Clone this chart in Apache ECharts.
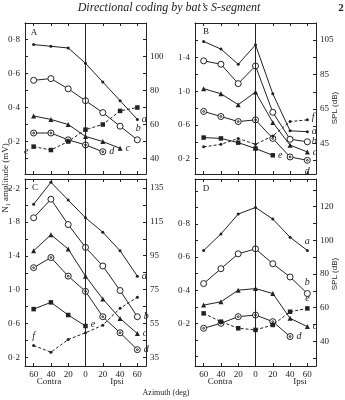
<!DOCTYPE html>
<html>
<head>
<meta charset="utf-8">
<style>
  html, body { margin: 0; padding: 0; background: #fff; }
  #chart { width: 345px; height: 400px; }
</style>
</head>
<body>
<div id="chart"></div>
<script src="https://cdn.jsdelivr.net/npm/echarts@6/dist/echarts.min.js"></script>
<script>
// azimuth in deg: contra is negative, ipsi positive
var azimuth = [-60, -40, -20, 0, 20, 40, 60];
var azTicks = [-60, -40, -20, 0, 20, 40, 60];

// panel A  (N1 amplitude, mV)
var aA = [0.77, 0.76, 0.75, 0.66, 0.55, 0.44, 0.33];
var bA = [0.56, 0.57, 0.51, 0.44, 0.37, 0.29, 0.21];
var cA = [0.35, 0.33, 0.30, 0.23, 0.20, 0.16];
var dA = [0.25, 0.25, 0.21, 0.18, 0.14];
var eA = [0.17, 0.15, 0.20, 0.27, 0.30, 0.38, 0.40];

// panel B
var aB = [1.59, 1.50, 1.32, 1.55, 0.97, 0.53, 0.52];
var bB = [1.36, 1.32, 1.09, 1.30, 0.75, 0.43, 0.40];
var cB = [1.03, 0.97, 0.84, 0.99, 0.63, 0.36, 0.28];
var dB = [0.76, 0.70, 0.64, 0.66, 0.44, 0.22, 0.18];
var eB = [0.45, 0.44, 0.39, 0.32, 0.24];
var fB = [0.34, 0.37, 0.44, 0.37, 0.47, 0.64, 0.66];

// panel C
var aC = [2.01, 2.27, 2.06, 1.85, 1.68, 1.46, 1.16];
var bC = [1.85, 2.07, 1.77, 1.50, 1.28, 0.99, 0.68];
var cC = [1.46, 1.65, 1.48, 1.16, 0.89, 0.66, 0.48];
var dC = [1.26, 1.38, 1.16, 0.98, 0.68, 0.49, 0.29];
var eC = [0.77, 0.85, 0.70, 0.57];
var fC = [0.34, 0.26, 0.41, 0.49, 0.58, 0.78, 0.91];

// panel D
var aD = [0.64, 0.74, 0.86, 0.90, 0.83, 0.72, 0.64];
var bD = [0.44, 0.53, 0.62, 0.65, 0.56, 0.48, 0.38];
var cD = [0.31, 0.33, 0.40, 0.41, 0.38, 0.23, 0.18];
var dD = [0.17, 0.20, 0.24, 0.25, 0.21, 0.12];
var eD = [0.26, 0.21, 0.17, 0.16, 0.19, 0.27, 0.29];

// tick marks / labels, left (mV) and right (SPL dB)
var ticksA = [0.1, 0.2, 0.3, 0.4, 0.5, 0.6, 0.7, 0.8];
var labelsA = [0.2, 0.4, 0.6, 0.8];
var splTicksA = [40, 50, 60, 70, 80, 90, 100, 110];
var splLabelsA = [40, 60, 80, 100];

var ticksB = [0.2, 0.4, 0.6, 0.8, 1.0, 1.2, 1.4, 1.6];
var labelsB = [0.2, 0.6, 1.0, 1.4];
var splTicksB = [35, 45, 55, 65, 75, 85, 95, 105];
var splLabelsB = [45, 65, 85, 105];

var ticksC = [0.2, 0.4, 0.6, 0.8, 1.0, 1.2, 1.4, 1.6, 1.8, 2.0, 2.2];
var labelsC = [0.2, 0.6, 1.0, 1.4, 1.8, 2.2];
var splTicksC = [35, 45, 55, 65, 75, 85, 95, 105, 115, 125, 135];
var splLabelsC = [35, 55, 75, 95, 115, 135];

var ticksD = [0, 0.1, 0.2, 0.3, 0.4, 0.5, 0.6, 0.7, 0.8, 0.9, 1.0];
var labelsD = [0.2, 0.4, 0.6, 0.8];
var splTicksD = [30, 40, 50, 60, 70, 80, 90, 100, 110, 120, 130];
var splLabelsD = [40, 60, 80, 100, 120];

var INK = '#222';
var SERIF = '"Liberation Serif", "DejaVu Serif", serif';

var chart = echarts.init(document.getElementById('chart'), null, {renderer: 'canvas'});

// panel boxes and value ranges (range picked so the paper's ticks land on place)
var panels = [
  {left: 25,  top: 23,  w: 121, h: 151, y: [0.009, 0.897], r: [30.9, 119.7],
   t: ticksA, l: labelsA, rt: splTicksA, rl: splLabelsA, xl: false},
  {left: 195, top: 23,  w: 121, h: 151, y: [0.018, 1.809], r: [27.3, 114.9],
   t: ticksB, l: labelsB, rt: splTicksB, rl: splLabelsB, xl: false},
  {left: 25,  top: 179, w: 121, h: 187, y: [0.097, 2.309], r: [29.9, 140.3],
   t: ticksC, l: labelsC, rt: splTicksC, rl: splLabelsC, xl: true},
  {left: 195, top: 179, w: 121, h: 187, y: [-0.058, 1.072], r: [25.3, 136.5],
   t: ticksD, l: labelsD, rt: splTicksD, rl: splLabelsD, xl: true}
];

function dot(v) { return v.toFixed(1).replace('.', '\u00b7'); }

var grids = [], xAxes = [], yAxes = [];
panels.forEach(function (p, i) {
  grids.push({left: p.left, top: p.top, width: p.w, height: p.h, show: false});
  var base = {
    gridIndex: i, type: 'value',
    axisLine: {show: true, onZero: false, lineStyle: {color: INK, width: 1}},
    splitLine: {show: false}
  };
  [ 'bottom', 'top' ].forEach(function (pos) {
    xAxes.push(Object.assign({}, base, {
      position: pos, min: -70, max: 70,
      axisTick: {inside: true, length: 3, customValues: azTicks, lineStyle: {color: INK}},
      axisLabel: {show: pos === 'bottom' && p.xl, customValues: azTicks, margin: 4,
        formatter: function (v) { return Math.abs(v); },
        color: INK, fontSize: 9, fontFamily: SERIF}
    }));
  });
  yAxes.push(Object.assign({}, base, {
    position: 'left', min: p.y[0], max: p.y[1],
    axisTick: {inside: true, length: 3, customValues: p.t, lineStyle: {color: INK}},
    axisLabel: {customValues: p.l, formatter: dot, margin: 5, color: INK, fontSize: 9, fontFamily: SERIF}
  }));
  yAxes.push(Object.assign({}, base, {
    position: 'right', min: p.r[0], max: p.r[1],
    axisTick: {inside: true, length: 3, customValues: p.rt, lineStyle: {color: INK}},
    axisLabel: {customValues: p.rl, margin: 4, color: INK, fontSize: 9, fontFamily: SERIF}
  }));
});

var MARK = {
  dot:  {symbol: 'circle', symbolSize: 3, itemStyle: {color: INK}},
  open: {symbol: 'circle', symbolSize: 6, itemStyle: {color: '#fff', borderColor: INK, borderWidth: 1}},
  tri:  {symbol: 'triangle', symbolSize: 5, itemStyle: {color: INK}},
  ring: {symbol: 'path://M0,10A10,10,0,1,1,20,10A10,10,0,1,1,0,10ZM7,10A3,3,0,1,1,13,10A3,3,0,1,1,7,10Z',
         symbolSize: 6, itemStyle: {color: '#fff', borderColor: INK, borderWidth: 1}},
  sq:   {symbol: 'rect', symbolSize: 4.5, itemStyle: {color: INK}}
};

// curve letter sits next to one point of the curve
function curve(gi, name, vals, mark, dashed, at, pos, off) {
  var idx = at === 'first' ? 0 : vals.length - 1;
  var data = vals.map(function (v, j) {
    var item = {value: [azimuth[j], v]};
    if (j === idx) {
      item.label = {show: true, formatter: name, position: pos, distance: 3,
        offset: off || [0, 0], color: INK, fontSize: 10, fontStyle: 'italic', fontFamily: SERIF};
    }
    return item;
  });
  var s = {
    type: 'line', name: name + gi, xAxisIndex: gi * 2, yAxisIndex: gi * 2,
    data: data, showSymbol: true, animation: false, silent: true,
    lineStyle: {color: INK, width: 1, type: dashed ? [3, 2] : 'solid'},
    z: 3
  };
  return Object.assign(s, MARK[mark]);
}

var series = [
  curve(0, 'a', aA, 'dot', false, 'last', 'right'),
  curve(0, 'b', bA, 'open', false, 'last', 'top', [1, 0]),
  curve(0, 'c', cA, 'tri', false, 'last', 'right'),
  curve(0, 'd', dA, 'ring', false, 'last', 'right'),
  curve(0, 'e', eA, 'sq', true, 'first', 'left', [0, 5]),

  curve(1, 'a', aB, 'dot', false, 'last', 'right'),
  curve(1, 'b', bB, 'open', false, 'last', 'right', [-2, 0]),
  curve(1, 'c', cB, 'tri', false, 'last', 'right'),
  curve(1, 'd', dB, 'ring', false, 'last', 'bottom'),
  curve(1, 'e', eB, 'sq', false, 'last', 'right'),
  curve(1, 'f', fB, 'dot', true, 'last', 'right', [0, -2]),

  curve(2, 'a', aC, 'dot', false, 'last', 'right'),
  curve(2, 'b', bC, 'open', false, 'last', 'right'),
  curve(2, 'c', cC, 'tri', false, 'last', 'right'),
  curve(2, 'd', dC, 'ring', false, 'last', 'right'),
  curve(2, 'e', eC, 'sq', false, 'last', 'right', [0, -2]),
  curve(2, 'f', fC, 'dot', true, 'first', 'top'),

  curve(3, 'a', aD, 'dot', false, 'last', 'top'),
  curve(3, 'b', bD, 'open', false, 'last', 'top'),
  curve(3, 'c', cD, 'tri', false, 'last', 'right'),
  curve(3, 'd', dD, 'ring', false, 'last', 'right'),
  curve(3, 'e', eD, 'sq', true, 'last', 'top')
];

// vertical line at 0 deg azimuth in every panel
[0, 1, 2, 3].forEach(function (gi) {
  series.push({
    type: 'line', xAxisIndex: gi * 2, yAxisIndex: gi * 2, data: [], silent: true, animation: false,
    markLine: {silent: true, symbol: 'none', animation: false, label: {show: false},
      lineStyle: {color: INK, width: 1, type: 'solid'}, data: [{xAxis: 0}]}
  });
});

function txt(x, y, s, font, rot) {
  return {type: 'text', x: x, y: y, rotation: rot || 0, silent: true,
    style: {text: s, font: font, fill: INK, align: 'center', verticalAlign: 'middle'}};
}

var graphic = [
  txt(169, 8, 'Directional coding by bat\u2019s S-segment', 'italic 12px ' + SERIF),
  txt(341, 8, '2', 'bold 11px ' + SERIF),
  txt(34, 33, 'A', '9px ' + SERIF),
  txt(206, 32, 'B', '9px ' + SERIF),
  txt(35, 188, 'C', '9px ' + SERIF),
  txt(206, 189, 'D', '9px ' + SERIF),
  txt(6, 178, 'N\u2081 amplitude (mV)', '9px ' + SERIF, Math.PI / 2),
  txt(335, 108, 'SPL (dB)', '8px "Liberation Sans", sans-serif', Math.PI / 2),
  txt(335, 274, 'SPL (dB)', '8px "Liberation Sans", sans-serif', Math.PI / 2),
  txt(49, 382, 'Contra', '9px ' + SERIF),
  txt(117, 382, 'Ipsi', '9px ' + SERIF),
  txt(220, 382, 'Contra', '9px ' + SERIF),
  txt(300, 382, 'Ipsi', '9px ' + SERIF),
  txt(166, 393, 'Azimuth (deg)', '8px ' + SERIF)
];

chart.setOption({
  backgroundColor: '#fff',
  animation: false,
  grid: grids,
  xAxis: xAxes,
  yAxis: yAxes,
  series: series,
  graphic: graphic
});
</script>
</body>
</html>
